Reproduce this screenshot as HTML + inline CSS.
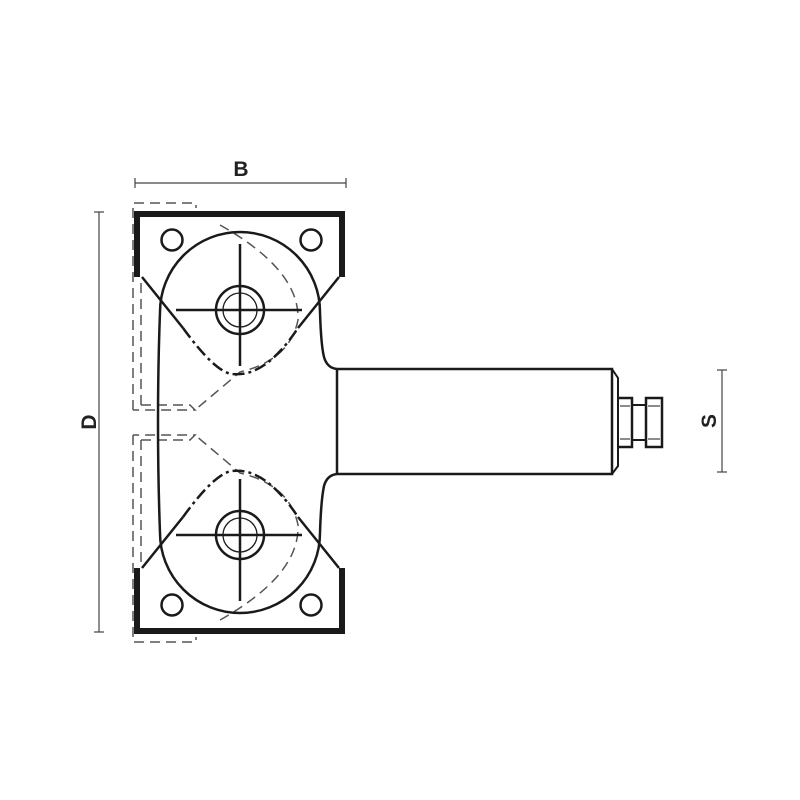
<!DOCTYPE html>
<html><head><meta charset="utf-8"><style>html,body{margin:0;padding:0;background:#fff}svg{display:block}</style></head>
<body>
<svg width="800" height="800" viewBox="0 0 800 800" xmlns="http://www.w3.org/2000/svg">
<rect width="800" height="800" fill="#fff"/>
<g stroke="#444" stroke-width="1.2" fill="none">
<line x1="135" y1="183" x2="346" y2="183"/><line x1="135" y1="178" x2="135" y2="188"/><line x1="346" y1="178" x2="346" y2="188"/>
<line x1="99" y1="212" x2="99" y2="632"/><line x1="94" y1="212" x2="104" y2="212"/><line x1="94" y1="632" x2="104" y2="632"/>
<line x1="722" y1="370" x2="722" y2="472"/><line x1="717" y1="370" x2="727" y2="370"/><line x1="717" y1="472" x2="727" y2="472"/>
</g>
<g font-family="Liberation Sans, sans-serif" font-weight="bold" font-size="21" fill="#222" text-anchor="middle">
<text x="241" y="176">B</text>
<text transform="translate(96,422) rotate(-90)">D</text>
<text transform="translate(716,421) rotate(-90)">S</text>
</g>
<g stroke="#555" stroke-width="1.5" fill="none" stroke-dasharray="10,6">
<path d="M133 410 V203 H196 V208"/>
<path d="M141 405 V278"/>
<path d="M141 405 H190 L195 410 H133"/>
<path d="M220 225 Q300 270 298 320 Q290 360 240 372 L195 410"/>
<path d="M133 435 V642 H196 V637"/>
<path d="M141 440 V567"/>
<path d="M141 440 H190 L195 435 H133"/>
<path d="M220 620 Q300 575 298 525 Q290 485 240 473 L195 435"/>
</g>
<g stroke="#1a1a1a" fill="none">
<path d="M137 277 V214 H342 V277" stroke-width="6"/>
<path d="M137 568 V631 H342 V568" stroke-width="6"/>
<g stroke-width="2.5">
<line x1="142" y1="277" x2="183" y2="328"/>
<line x1="339" y1="277" x2="298" y2="328"/>
<line x1="142" y1="568" x2="183" y2="517"/>
<line x1="339" y1="568" x2="298" y2="517"/>
</g>
<g stroke-width="2.5" stroke-dasharray="12,4,3,4">
<path d="M183 328 Q215 372 232 374 Q265 378 298 328"/>
<path d="M183 517 Q215 473 232 471 Q265 467 298 517"/>
</g>
<path d="M160 312 A80 80 0 0 1 320 312 Q321 345 324 357 Q327 368 337 369 H612 V474 H337 Q327 475 324 486 Q321 500 320 533 A80 80 0 0 1 160 533 Q158 480 158 422 Q158 365 160 312 Z" stroke-width="2.5"/>
<line x1="337" y1="369" x2="337" y2="474" stroke-width="2.5"/>
<path d="M612 369 L618 378 V466 L612 474" stroke-width="2"/>
<path d="M618 398 H632 V447 H618" stroke-width="2.5"/>
<line x1="632" y1="405" x2="646" y2="405" stroke-width="2"/>
<line x1="632" y1="440" x2="646" y2="440" stroke-width="2"/>
<rect x="646" y="398" width="16" height="49" stroke-width="2.5"/>
<g stroke-width="1"><line x1="620" y1="406" x2="630" y2="406"/><line x1="620" y1="439" x2="630" y2="439"/><line x1="648" y1="406" x2="660" y2="406"/><line x1="648" y1="439" x2="660" y2="439"/></g>
<g stroke-width="2.5">
<circle cx="240" cy="310" r="24"/><circle cx="240" cy="535" r="24"/>
<circle cx="172" cy="240" r="10.5"/><circle cx="311" cy="240" r="10.5"/>
<circle cx="172" cy="605" r="10.5"/><circle cx="311" cy="605" r="10.5"/>
<line x1="176" y1="310" x2="302" y2="310"/><line x1="240" y1="244" x2="240" y2="366"/>
<line x1="176" y1="535" x2="302" y2="535"/><line x1="240" y1="479" x2="240" y2="601"/>
</g>
<circle cx="240" cy="310" r="17" stroke-width="1.3"/>
<circle cx="240" cy="535" r="17" stroke-width="1.3"/>
</g>
</svg>
</body></html>
